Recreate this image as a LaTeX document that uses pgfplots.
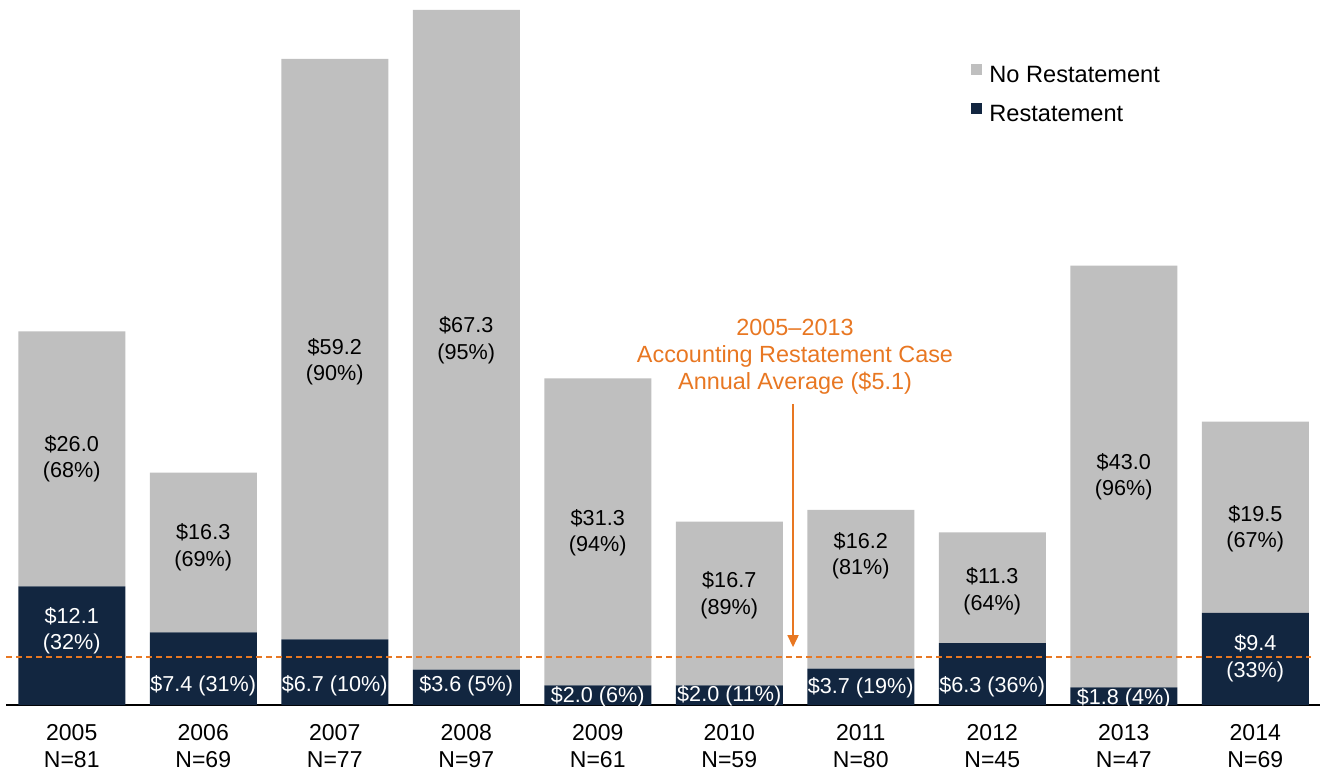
\documentclass[border=0pt]{standalone}
\usepackage{pgfplots}
\pgfplotsset{compat=1.18}
\usepackage{fontspec}
\setmainfont{Liberation Sans}
\usetikzlibrary{arrows.meta}
\definecolor{navy}{RGB}{18,38,64}
\definecolor{lgray}{RGB}{191,191,191}
\definecolor{orng}{RGB}{232,119,34}
\tikzset{
    lblb/.style={align=center, text=black, font=\fontsize{10.8}{13.2}\selectfont},
    lblw/.style={align=center, text=white, font=\fontsize{10.8}{13.2}\selectfont},
}

\begin{document}
\begin{tikzpicture}
\begin{axis}[
    scale only axis, width=657.5pt, height=352.5pt,
    xmin=-0.5, xmax=9.5, ymin=0, ymax=71.9,
    ybar stacked, bar width=53.5pt, bar shift=0pt,
    axis x line=bottom, axis y line=none,
    axis line style={-, black, line width=1pt},
    xtick={0,...,9},
    xticklabels={{2005\\N=81},{2006\\N=69},{2007\\N=77},{2008\\N=97},{2009\\N=61},
                 {2010\\N=59},{2011\\N=80},{2012\\N=45},{2013\\N=47},{2014\\N=69}},
    xticklabel style={align=center, font=\fontsize{11.5}{13.5}\selectfont, yshift=-6pt},
    major tick length=0pt,
    ytick=\empty,
    clip=false,
    reverse legend,
    legend style={at={(0.7293,0.9157)}, anchor=north west, draw=none, fill=none,
        font=\fontsize{11.8}{12}\selectfont, row sep=10.5pt,
        nodes={inner sep=0pt, text height=8.5pt, text depth=0pt}},
    legend cell align=left,
    legend image code/.code={\fill[#1] (0pt,-0.5pt) rectangle (5.5pt,5pt); \path (9pt,0pt);},
]
% Restatement (bottom)
\addplot[fill=navy, draw=none] coordinates {
    (0,12.1) (1,7.4) (2,6.7) (3,3.6) (4,2.0) (5,2.0) (6,3.7) (7,6.3) (8,1.8) (9,9.4)};
\addlegendentry{Restatement}
% No restatement (top)
\addplot[fill=lgray, draw=none] coordinates {
    (0,26.0) (1,16.3) (2,59.2) (3,67.3) (4,31.3) (5,16.7) (6,16.2) (7,11.3) (8,43.0) (9,19.5)};
\addlegendentry{No Restatement}

% anchor points for text drawn after the axis (stacked bars are drawn last)
\coordinate (avgL) at (axis cs:-0.5,4.85);
\coordinate (avgR) at (axis cs:9.42,4.85);
\coordinate (arrT) at (axis cs:5.485,30.7);
\coordinate (arrB) at (axis cs:5.485,5.9);
\coordinate (note) at (axis cs:5.5,35.5);
\coordinate (g0) at (axis cs:0,25.1);
\coordinate (g1) at (axis cs:1,16.1);
\coordinate (g2) at (axis cs:2,35.0);
\coordinate (g3) at (axis cs:3,37.2);
\coordinate (g4) at (axis cs:4,17.55);
\coordinate (g5) at (axis cs:5,11.2);
\coordinate (g6) at (axis cs:6,15.2);
\coordinate (g7) at (axis cs:7,11.6);
\coordinate (g8) at (axis cs:8,23.3);
\coordinate (g9) at (axis cs:9,18.0);
\coordinate (r0) at (axis cs:0,7.55);
\coordinate (r1) at (axis cs:1,1.95);
\coordinate (r2) at (axis cs:2,1.95);
\coordinate (r3) at (axis cs:3,1.95);
\coordinate (r4) at (axis cs:4,0.8);
\coordinate (r5) at (axis cs:5,0.9);
\coordinate (r6) at (axis cs:6,1.75);
\coordinate (r7) at (axis cs:7,1.85);
\coordinate (r8) at (axis cs:8,0.6);
\coordinate (r9) at (axis cs:9,4.75);
\end{axis}

% average line and annotation
\draw[draw=orng, line width=1pt, dash pattern=on 3pt off 2pt] (avgL) -- (avgR);
\draw[orng, line width=0.8pt, -{Triangle[width=5.5pt,length=6pt]}] (arrT) -- (arrB);
\node[text=orng, align=center, font=\fontsize{11.7}{13.5}\selectfont] at (note)
    {2005--2013\\Accounting Restatement Case\\Annual Average (\$5.1)};

% labels: no restatement
\node[lblb] at (g0) {\$26.0\\(68\%)};
\node[lblb] at (g1) {\$16.3\\(69\%)};
\node[lblb] at (g2) {\$59.2\\(90\%)};
\node[lblb] at (g3) {\$67.3\\(95\%)};
\node[lblb] at (g4) {\$31.3\\(94\%)};
\node[lblb] at (g5) {\$16.7\\(89\%)};
\node[lblb] at (g6) {\$16.2\\(81\%)};
\node[lblb] at (g7) {\$11.3\\(64\%)};
\node[lblb] at (g8) {\$43.0\\(96\%)};
\node[lblb] at (g9) {\$19.5\\(67\%)};
% labels: restatement
\node[lblw] at (r0) {\$12.1\\(32\%)};
\node[lblw] at (r1) {\$7.4 (31\%)};
\node[lblw] at (r2) {\$6.7 (10\%)};
\node[lblw] at (r3) {\$3.6 (5\%)};
\node[lblw] at (r4) {\$2.0 (6\%)};
\node[lblw] at (r5) {\$2.0 (11\%)};
\node[lblw] at (r6) {\$3.7 (19\%)};
\node[lblw] at (r7) {\$6.3 (36\%)};
\node[lblw] at (r8) {\$1.8 (4\%)};
\node[lblw] at (r9) {\$9.4\\(33\%)};

\pgfresetboundingbox
\path (current axis.south west) ++(-3pt,-32.5pt) rectangle ++(660pt,385pt);
\end{tikzpicture}
\end{document}
